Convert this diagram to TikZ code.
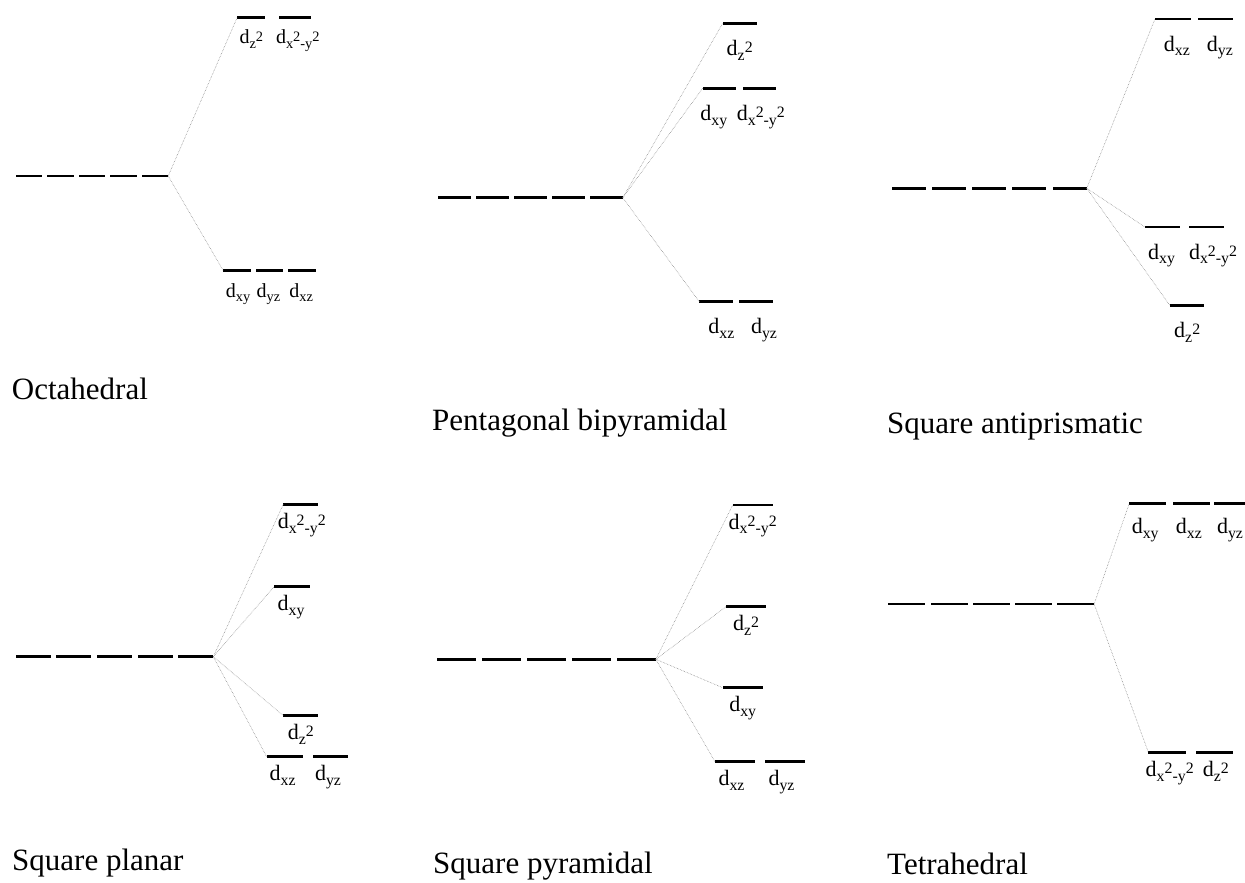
\documentclass[tikz,border=0pt]{standalone}
\usepackage{graphicx}
\usepackage{fontspec}
\setmainfont{Liberation Serif}

\newcommand{\orbsub}[1]{\raisebox{-0.22em}{\scalebox{0.72}{#1}}}
\newcommand{\orbsup}[1]{\raisebox{0.14em}{\scalebox{0.72}{#1}}}
\newcommand{\dxy}{d\orbsub{xy}}
\newcommand{\dxz}{d\orbsub{xz}}
\newcommand{\dyz}{d\orbsub{yz}}
\newcommand{\dzsq}{d\orbsub{z}\orbsup{2}}
\newcommand{\dxxyy}{d\orbsub{x}\orbsup{2}\orbsub{-y}\orbsup{2}}

\begin{document}
\begin{tikzpicture}[x=1pt, y=-1pt,
  bar/.style={fill=black, minimum width=#1, minimum height=2.9pt, inner sep=0pt, outer sep=0pt},
  bar/.default=30pt,
  orb/.style={font=\fontsize{22}{22}\selectfont, inner sep=0pt, text height=#1},
  orb/.default=23pt,
  link/.style={gray, densely dotted, line width=0.55pt},
  geo/.style={font=\fontsize{31}{31}\selectfont, inner sep=0pt, anchor=base west}
]
\useasboundingbox (0,0) rectangle (1245,883);

% octahedral
\begin{scope}[orb/.default=25pt, orb/.append style={font=\fontsize{20}{20}\selectfont}]
\foreach \i in {0,...,4}
  \node[bar=26.5pt] (oh\i) at ({28.95+31.5*\i},176) {};
\node[bar=28pt, label={[orb]below:\dzsq}] (ohz) at (251.3,17.3) {};
\node[bar=32pt, label={[orb, xshift=2.5pt]below:\dxxyy}] (ohx) at (295.3,17.3) {};
\node[bar=27.4pt, label={[orb, xshift=1pt]below:\dxy}] (ohxy) at (237,270.7) {};
\node[bar=27.6pt, label={[orb, xshift=-1pt]below:\dyz}] (ohyz) at (269.5,270.7) {};
\node[bar=27.7pt, label={[orb, xshift=-1pt]below:\dxz}] (ohxz) at (302.2,270.7) {};
\draw[link] (oh4.east) -- (ohz.west);
\draw[link] (oh4.east) -- (ohxy.west);
\node[geo] (ohname) at (11.7,399) {Octahedral};
\end{scope}

% pentagonal bipyramidal
\begin{scope}[orb/.default=30.5pt]
\foreach \i in {0,...,4}
  \node[bar=32.5pt] (pb\i) at ({454.55+38*\i},197.7) {};
\node[bar=34pt, label={[orb]below:\dzsq}] (pbz) at (739.7,23.3) {};
\node[bar=33.3pt, label={[orb, xshift=-5.5pt]below:\dxy}] (pbxy) at (719.3,88.3) {};
\node[bar=33.3pt, label={[orb, xshift=1.5pt]below:\dxxyy}] (pbx) at (759.3,88.3) {};
\node[bar=34pt, label={[orb, xshift=5pt]below:\dxz}] (pbxz) at (716.3,301.7) {};
\node[bar=33.4pt, label={[orb, xshift=8pt]below:\dyz}] (pbyz) at (756,301.7) {};
\draw[link] (pb4.east) -- (pbz.west);
\draw[link] (pb4.east) -- (pbxy.west);
\draw[link] (pb4.east) -- (pbxz.west);
\node[geo] (pbname) at (432,430) {Pentagonal bipyramidal};
\end{scope}

% square antiprismatic
\begin{scope}[orb/.default=30.5pt]
\foreach \i in {0,...,4}
  \node[bar=34pt] (sa\i) at ({908.7+40.25*\i},188.3) {};
\node[bar=35.7pt, label={[orb, xshift=4pt]below:\dxz}] (saxz) at (1172.8,19) {};
\node[bar=35pt, label={[orb, xshift=4pt]below:\dyz}] (sayz) at (1215.8,19) {};
\node[bar=35pt, label={[orb, xshift=-1pt]below:\dxy}] (saxy) at (1162.5,227) {};
\node[bar=35pt, label={[orb, xshift=6.5pt]below:\dxxyy}] (sax) at (1206.5,227) {};
\node[bar=34.3pt, label={[orb]below:\dzsq}] (saz) at (1187.2,305.7) {};
\draw[link] (sa4.east) -- (saxz.west);
\draw[link] (sa4.east) -- (saxy.west);
\draw[link] (sa4.east) -- (saz.west);
\node[geo] (saname) at (887,433) {Square antiprismatic};
\end{scope}

% square planar
\begin{scope}[orb/.default=22.5pt]
\foreach \i in {0,...,4}
  \node[bar=35pt] (sp\i) at ({33.2+40.65*\i},656.7) {};
\node[bar=35pt, label={[orb, xshift=1pt]below:\dxxyy}] (spx) at (300.8,504.3) {};
\node[bar=36pt, label={[orb, xshift=-1pt]below:\dxy}] (spxy) at (292,586.7) {};
\node[bar=35pt, label={[orb]below:\dzsq}] (spz) at (300.8,715.7) {};
\node[bar=36pt, label={[orb, xshift=-2pt]below:\dxz}] (spxz) at (284.7,756.7) {};
\node[bar=35.6pt, label={[orb, xshift=-2.5pt]below:\dyz}] (spyz) at (330.5,756.7) {};
\draw[link] (sp4.east) -- (spx.west);
\draw[link] (sp4.east) -- (spxy.west);
\draw[link] (sp4.east) -- (spz.west);
\draw[link] (sp4.east) -- (spxz.west);
\node[geo] (spname) at (12,870) {Square planar};
\end{scope}

% square pyramidal
\begin{scope}[orb/.default=22.5pt]
\foreach \i in {0,...,4}
  \node[bar=38.5pt] (py\i) at ({456.55+45*\i},659.3) {};
\node[bar=40pt, label={[orb]below:\dxxyy}] (pyx) at (752.7,505) {};
\node[bar=40pt, label={[orb]below:\dzsq}] (pyz) at (746,606.7) {};
\node[bar=40pt, label={[orb]below:\dxy}] (pyxy) at (742.7,687.7) {};
\node[bar=40pt, label={[orb, xshift=-3.5pt]below:\dxz}] (pyxz) at (735,761.7) {};
\node[bar=40pt, label={[orb, xshift=-3.5pt]below:\dyz}] (pyyz) at (785,761.7) {};
\draw[link] (py4.east) -- (pyx.west);
\draw[link] (py4.east) -- (pyz.west);
\draw[link] (py4.east) -- (pyxy.west);
\draw[link] (py4.east) -- (pyxz.west);
\node[geo] (pyname) at (433,873) {Square pyramidal};
\end{scope}

% tetrahedral
\begin{scope}[orb/.default=22.5pt]
\foreach \i in {0,...,4}
  \node[bar=37pt] (td\i) at ({906.8+42.2*\i},604) {};
\node[bar=36.7pt, label={[orb=28.5pt, xshift=-2.5pt]below:\dxy}] (tdxy) at (1147.7,503.3) {};
\node[bar=37.3pt, label={[orb=28.5pt, xshift=-2.5pt]below:\dxz}] (tdxz) at (1191.3,503.3) {};
\node[bar=36pt, label={[orb=28.5pt, xshift=-2pt]below:\dyz}] (tdyz) at (1232,503.3) {};
\node[bar=37.7pt, label={[orb, xshift=2.5pt]below:\dxxyy}] (tdx) at (1167.2,752.3) {};
\node[bar=36.7pt, label={[orb, xshift=1.5pt]below:\dzsq}] (tdz) at (1214.3,752.3) {};
\draw[link] (td4.east) -- (tdxy.west);
\draw[link] (td4.east) -- (tdx.west);
\node[geo] (tdname) at (887,874) {Tetrahedral};
\end{scope}
\end{tikzpicture}
\end{document}
